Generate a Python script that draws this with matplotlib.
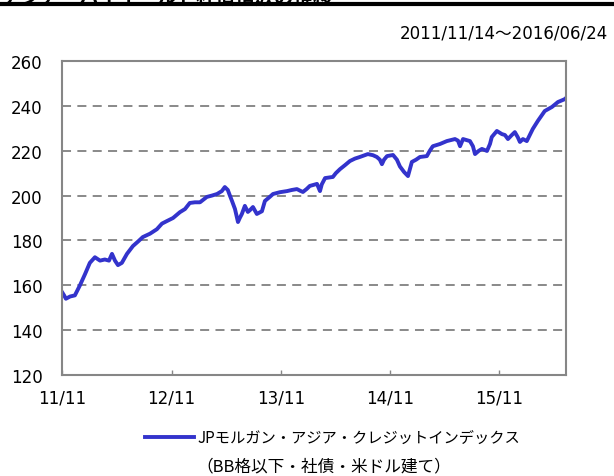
import matplotlib
matplotlib.use("Agg")
import matplotlib.pyplot as plt
from matplotlib.lines import Line2D
import pandas as pd

plt.rcParams['font.family'] = ['DejaVu Sans', 'Noto Sans CJK JP']
JP = ['Noto Sans CJK JP', 'DejaVu Sans']

# index level
dates = [
    "2011-11-14", "2011-11-21", "2011-11-27", "2011-12-11", "2011-12-27",
    "2012-01-13", "2012-01-30", "2012-02-15", "2012-03-03", "2012-03-20",
    "2012-04-05", "2012-04-19", "2012-04-29", "2012-05-09", "2012-05-19",
    "2012-06-01", "2012-06-18", "2012-07-08", "2012-07-25", "2012-08-10",
    "2012-09-03", "2012-09-26", "2012-10-13", "2012-10-29", "2012-11-19",
    "2012-12-12", "2012-12-29", "2013-01-14", "2013-01-31", "2013-02-17",
    "2013-03-12", "2013-03-29", "2013-04-15", "2013-05-01", "2013-05-11",
    "2013-05-21", "2013-05-28", "2013-06-04", "2013-06-14", "2013-06-24",
    "2013-06-30", "2013-07-07", "2013-07-17", "2013-07-27", "2013-08-03",
    "2013-08-13", "2013-08-26", "2013-09-12", "2013-09-22", "2013-10-09",
    "2013-10-19", "2013-11-11", "2013-12-05", "2013-12-21", "2014-01-07",
    "2014-01-17", "2014-01-27", "2014-02-09", "2014-02-19", "2014-03-15",
    "2014-03-25", "2014-03-31", "2014-04-11", "2014-05-07", "2014-05-17",
    "2014-05-31", "2014-06-16", "2014-07-03", "2014-07-20", "2014-08-05",
    "2014-09-01", "2014-09-18", "2014-10-01", "2014-10-11", "2014-10-18",
    "2014-10-25", "2014-11-04", "2014-11-24", "2014-12-07", "2014-12-17",
    "2014-12-31", "2015-01-13", "2015-01-26", "2015-02-09", "2015-02-22",
    "2015-03-17", "2015-03-27", "2015-04-06", "2015-04-30", "2015-05-23",
    "2015-06-19", "2015-06-29", "2015-07-06", "2015-07-16", "2015-08-08",
    "2015-08-18", "2015-08-25", "2015-09-07", "2015-09-17", "2015-10-04",
    "2015-10-14", "2015-10-20", "2015-11-06", "2015-11-23", "2015-12-03",
    "2015-12-13", "2015-12-26", "2016-01-05", "2016-01-15", "2016-01-22",
    "2016-02-01", "2016-02-14", "2016-02-24", "2016-03-05", "2016-03-22",
    "2016-04-14", "2016-05-08", "2016-05-28", "2016-06-20", "2016-06-24",
]
values = [
    157.0, 155.5, 154.0, 155.0, 155.5,
    160.0, 165.0, 170.0, 172.5, 171.0,
    171.5, 171.0, 174.0, 171.0, 169.0,
    170.0, 174.0, 177.5, 179.5, 181.5,
    183.0, 185.0, 187.5, 188.6, 190.0,
    192.6, 194.0, 196.7, 197.0, 197.0,
    199.4, 200.0, 200.7, 202.0, 203.8,
    202.5, 200.0, 197.6, 194.0, 188.2,
    190.0, 191.8, 195.4, 192.7, 193.5,
    194.9, 191.8, 193.0, 197.6, 199.5,
    200.7, 201.5, 202.0, 202.5, 202.9,
    202.2, 201.6, 203.0, 204.3, 205.2,
    202.0, 205.0, 207.8, 208.3, 210.0,
    211.8, 213.5, 215.4, 216.5, 217.2,
    218.5, 218.0, 217.2, 216.0, 214.0,
    216.0, 217.6, 218.1, 216.0, 213.0,
    210.5, 208.7, 215.0, 216.0, 217.2,
    217.6, 220.0, 222.0, 223.0, 224.3,
    225.2, 224.5, 222.0, 225.2, 224.3,
    222.0, 218.5, 220.0, 220.8, 219.9,
    223.0, 226.1, 228.8, 227.4, 227.0,
    225.2, 227.0, 228.3, 226.0, 223.9,
    225.2, 224.3, 227.0, 229.7, 233.3,
    237.7, 239.5, 241.7, 243.0, 243.5,
]
tick_dates = ["2011-11-14", "2012-11-14", "2013-11-14", "2014-11-14", "2015-11-14"]
tick_labels = ["11/11", "12/11", "13/11", "14/11", "15/11"]
y_ticks = [120, 140, 160, 180, 200, 220, 240, 260]

series = pd.Series(values, index=pd.to_datetime(dates))

fig = plt.figure(figsize=(6.14, 4.77), dpi=100)
ax = fig.add_axes([62 / 614, 1 - 376 / 477, 504 / 614, 314 / 477])

ax.plot(series.index, series.values, color="#3333cc", lw=2.8, solid_joinstyle="round")

ax.set_xlim(series.index[0], series.index[-1])
ax.set_ylim(120, 260)
ax.set_yticks(y_ticks)
ax.set_xticks(pd.to_datetime(tick_dates))
ax.set_xticklabels(tick_labels)

for y in y_ticks[1:-1]:
    ax.axhline(y, color="#808080", lw=1.3, ls=(0, (5, 3.5)), zorder=0)

for s in ax.spines.values():
    s.set_color("#868686")
    s.set_linewidth(1.5)

ax.tick_params(axis="y", length=0, pad=14, labelsize=12)
ax.tick_params(axis="x", direction="in", length=3.5, width=1, color="#868686",
               pad=10, labelsize=12)

# date range, title remnant and rule at the top
fig.text(608 / 614, 1 - 33 / 477, "2011/11/14〜2016/06/24", ha="right", va="center",
         fontsize=12)
fig.text(2 / 614, 1 - 3.5 / 477, "アジア・ハイイールド社債指数の推移", ha="left",
         va="baseline", fontsize=14, fontweight="bold", family=JP)
fig.add_artist(Line2D([0, 1], [1 - 5 / 477, 1 - 5 / 477], color="black", lw=3,
                      transform=fig.transFigure))

# legend
fig.add_artist(Line2D([145 / 614, 194 / 614], [1 - 438 / 477, 1 - 438 / 477],
                      color="#3333cc", lw=2.8, transform=fig.transFigure))
fig.text(198 / 614, 1 - 438 / 477, "JPモルガン・アジア・クレジットインデックス",
         ha="left", va="center", fontsize=11, family=JP)
fig.text(196 / 614, 1 - 467 / 477, "（BB格以下・社債・米ドル建て）",
         ha="left", va="center", fontsize=12, family=JP)

fig.savefig("out.png", dpi=100)
